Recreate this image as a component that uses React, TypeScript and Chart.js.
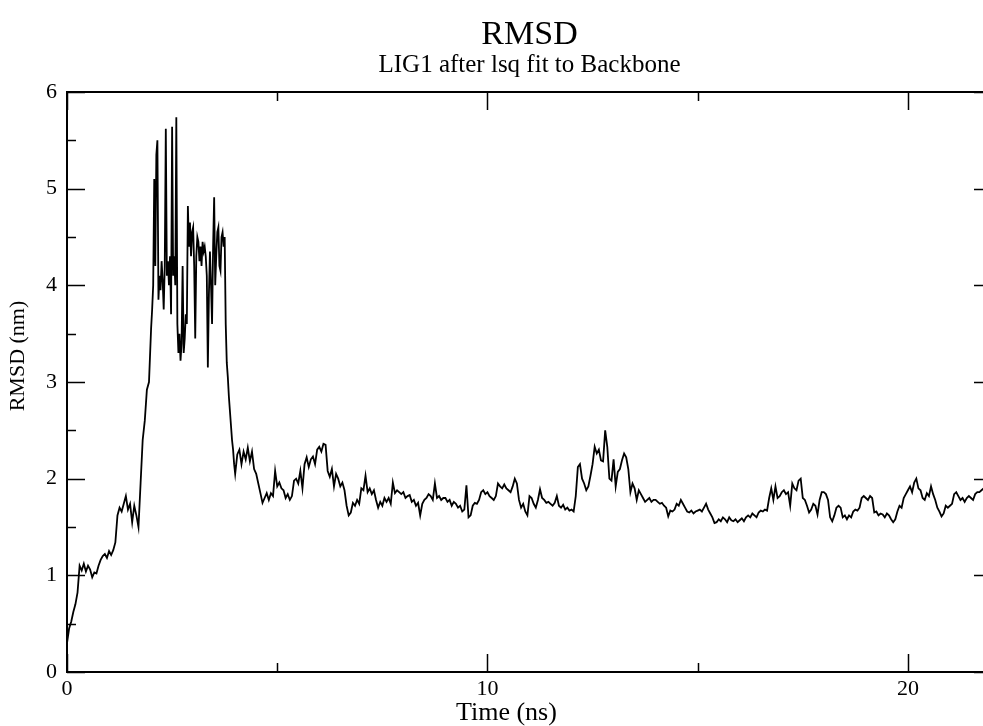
import React, { useEffect, useRef } from "react";
import { Chart, registerables } from "chart.js";

Chart.register(...registerables);

// ---- data (RMSD of LIG1 in nm) ----
// 0.00 - 1.95 ns, every 0.05 ns
const equilibrationStartNs = 0;
const equilibrationStepNs = 0.05;
const rmsdEquilibration = [
  0.30, 0.45, 0.52, 0.62, 0.70, 0.82, 1.10, 1.05, 1.12, 1.04, 1.10, 1.06, 0.98, 1.03, 1.02, 1.10, 1.16, 1.20, 1.22, 1.18,
  1.25, 1.21, 1.26, 1.34, 1.62, 1.70, 1.66, 1.74, 1.82, 1.68, 1.74, 1.55, 1.72, 1.62, 1.50, 1.95, 2.40, 2.60, 2.92, 3.00,
];
// 2.000 - 3.975 ns, every 0.025 ns
const excursionStartNs = 2.0;
const excursionStepNs = 0.025;
const rmsdExcursion = [
  3.55, 3.75, 4.00, 5.10, 4.20, 5.35, 5.50, 3.85, 4.10, 3.95, 4.25, 4.05, 3.75, 4.20, 5.62, 4.10, 4.25, 4.00, 4.30, 3.70,
  5.64, 4.10, 4.30, 4.00, 5.74, 3.60, 3.30, 3.50, 3.22, 3.40, 4.20, 3.30, 3.45, 3.70, 3.60, 4.82, 4.40, 4.65, 4.30, 4.55,
  4.60, 4.20, 3.45, 4.30, 4.50, 4.45, 4.25, 4.40, 4.20, 4.45, 4.35, 4.40, 4.30, 4.10, 3.15, 3.90, 4.35, 4.00, 3.60, 4.40,
  4.91, 4.00, 4.30, 4.55, 4.60, 4.20, 4.15, 4.50, 4.55, 4.40, 4.50, 3.60, 3.20, 3.05, 2.85, 2.70, 2.55, 2.40, 2.30, 2.15,
];
// 4.00 - 22.00 ns, every 0.05 ns
const productionStartNs = 4.0;
const productionStepNs = 0.05;
const rmsdRelaxation = [
  2.05, 2.25, 2.30, 2.15, 2.28, 2.20, 2.32, 2.18, 2.28, 2.10, 2.05, 1.95, 1.85, 1.75, 1.80, 1.85, 1.78, 1.85, 1.82, 2.08,
  1.92, 1.96, 1.90, 1.88, 1.80, 1.84, 1.78, 1.82, 1.98, 2.00, 1.95, 2.08, 1.90, 2.15, 2.22, 2.12, 2.20, 2.23, 2.15, 2.30,
  2.33, 2.28, 2.36, 2.35, 2.08, 2.02, 2.10, 1.92, 2.05, 2.00, 1.92, 1.96, 1.88, 1.72, 1.62, 1.65, 1.75, 1.72, 1.78, 1.74,
];
const rmsdStable1 = [
  1.90, 1.88, 2.03, 1.86, 1.90, 1.84, 1.88, 1.78, 1.70, 1.76, 1.72, 1.80, 1.76, 1.80, 1.74, 1.96, 1.85, 1.88, 1.86, 1.84,
  1.86, 1.80, 1.82, 1.83, 1.76, 1.78, 1.72, 1.75, 1.62, 1.74, 1.78, 1.80, 1.84, 1.82, 1.78, 1.95, 1.80, 1.82, 1.78, 1.80,
  1.80, 1.76, 1.78, 1.72, 1.76, 1.74, 1.70, 1.72, 1.66, 1.68, 1.93, 1.60, 1.62, 1.72, 1.75, 1.74, 1.78, 1.86, 1.88, 1.84,
  1.86, 1.82, 1.80, 1.78, 1.82, 1.95, 1.92, 1.90, 1.94, 1.90, 1.88, 1.86, 1.92, 2.00, 1.95, 1.78, 1.70, 1.74, 1.66, 1.62,
  1.82, 1.80, 1.74, 1.70, 1.78, 1.89, 1.80, 1.78, 1.75, 1.76, 1.74, 1.72, 1.75, 1.82, 1.72, 1.70, 1.73, 1.68, 1.70, 1.67,
];
const rmsdBump = [
  1.68, 1.66, 1.82, 2.12, 2.15, 2.00, 1.95, 1.88, 1.92, 2.03, 2.15, 2.33, 2.26, 2.30, 2.19, 2.18, 2.50, 2.33, 2.00, 1.98,
  2.20, 1.92, 2.07, 2.10, 2.19, 2.26, 2.22, 2.10, 1.86, 1.95, 1.90, 1.78, 1.88, 1.84, 1.80, 1.76, 1.78, 1.80, 1.76, 1.78,
];
const rmsdStable2 = [
  1.78, 1.76, 1.74, 1.75, 1.72, 1.70, 1.61, 1.67, 1.66, 1.68, 1.74, 1.72, 1.78, 1.74, 1.70, 1.66, 1.65, 1.67, 1.64, 1.66,
  1.67, 1.68, 1.66, 1.70, 1.74, 1.68, 1.64, 1.60, 1.54, 1.55, 1.58, 1.56, 1.60, 1.58, 1.55, 1.60, 1.57, 1.56, 1.58, 1.55,
  1.57, 1.59, 1.56, 1.60, 1.62, 1.60, 1.64, 1.62, 1.60, 1.65, 1.67, 1.66, 1.68, 1.67, 1.80, 1.90, 1.78, 1.92, 1.80, 1.82,
  1.86, 1.88, 1.84, 1.86, 1.72, 1.95, 1.90, 1.88, 1.98, 2.00, 1.80, 1.78, 1.72, 1.65, 1.68, 1.74, 1.72, 1.63, 1.78, 1.86,
  1.86, 1.84, 1.78, 1.60, 1.56, 1.62, 1.70, 1.72, 1.70, 1.60, 1.62, 1.58, 1.62, 1.60, 1.66, 1.68, 1.67, 1.70, 1.80, 1.82,
  1.80, 1.78, 1.82, 1.80, 1.65, 1.66, 1.62, 1.64, 1.63, 1.60, 1.64, 1.62, 1.58, 1.55, 1.58, 1.66, 1.72, 1.70, 1.80, 1.84,
  1.88, 1.92, 1.86, 1.96, 2.00, 1.90, 1.88, 1.80, 1.78, 1.85, 1.82, 1.92, 1.84, 1.78, 1.70, 1.66, 1.61, 1.64, 1.72, 1.70,
  1.72, 1.74, 1.84, 1.86, 1.82, 1.78, 1.80, 1.76, 1.80, 1.82, 1.80, 1.78, 1.84, 1.86, 1.86, 1.88, 1.90, 1.92, 1.90, 1.88,
  1.90,
];

const xMajorTicks = [0, 10, 20];
const xMinorTicks = [5, 15];
const yMajorTicks = [0, 1, 2, 3, 4, 5, 6];
const yMinorTicks = [0.5, 1.5, 2.5, 3.5, 4.5, 5.5];

const titleText = "RMSD";
const subtitleText = "LIG1 after lsq fit to Backbone";
const xTitleText = "Time (ns)";
const yTitleText = "RMSD (nm)";

const FONT = "'Liberation Serif', 'Times New Roman', serif";

const framePlugin = {
  id: "xmgraceFrame",
  afterDraw(chart: any) {
    const { ctx, chartArea: a, scales } = chart;
    const xs = scales.x;
    const ys = scales.y;
    const MAJOR = 18;
    const MINOR = 9;
    ctx.save();
    ctx.strokeStyle = "#000";
    ctx.lineWidth = 2;
    ctx.strokeRect(a.left, a.top, a.right - a.left, a.bottom - a.top);
    ctx.lineWidth = 1.5;
    ctx.beginPath();
    const xt = (vals: number[], len: number) => {
      for (const v of vals) {
        const px = Math.round(xs.getPixelForValue(v)) + 0.5;
        ctx.moveTo(px, a.bottom);
        ctx.lineTo(px, a.bottom - len);
        ctx.moveTo(px, a.top);
        ctx.lineTo(px, a.top + len);
      }
    };
    const yt = (vals: number[], len: number) => {
      for (const v of vals) {
        const py = Math.round(ys.getPixelForValue(v)) + 0.5;
        ctx.moveTo(a.left, py);
        ctx.lineTo(a.left + len, py);
        ctx.moveTo(a.right, py);
        ctx.lineTo(a.right - len, py);
      }
    };
    xt(xMajorTicks, MAJOR);
    xt(xMinorTicks, MINOR);
    yt(yMajorTicks, MAJOR);
    yt(yMinorTicks, MINOR);
    ctx.stroke();

    // axis titles (placed as in the xmgrace output)
    ctx.fillStyle = "#000";
    ctx.font = `26px ${FONT}`;
    ctx.textAlign = "center";
    ctx.textBaseline = "alphabetic";
    ctx.fillText(xTitleText, xs.getPixelForValue(10) + 19, a.bottom + 48);

    ctx.translate(18, (a.top + a.bottom) / 2 - 26);
    ctx.rotate(-Math.PI / 2);
    ctx.font = `22px ${FONT}`;
    ctx.textBaseline = "middle";
    ctx.fillText(yTitleText, 0, 0);
    ctx.restore();
  },
};

export default function App() {
  const canvasRef = useRef<HTMLCanvasElement | null>(null);

  useEffect(() => {
    if (!canvasRef.current) return;
    const toPoints = (start: number, step: number, vals: number[]) =>
      vals.map((v, i) => ({ x: +(start + i * step).toFixed(3), y: v }));
    const production = [...rmsdRelaxation, ...rmsdStable1, ...rmsdBump, ...rmsdStable2];
    const points = [
      ...toPoints(equilibrationStartNs, equilibrationStepNs, rmsdEquilibration),
      ...toPoints(excursionStartNs, excursionStepNs, rmsdExcursion),
      ...toPoints(productionStartNs, productionStepNs, production),
    ];

    const chart = new Chart(canvasRef.current, {
      type: "line",
      data: {
        datasets: [
          {
            data: points,
            borderColor: "#000",
            borderWidth: 1.8,
            pointRadius: 0,
            tension: 0,
            fill: false,
          },
        ],
      },
      plugins: [framePlugin],
      options: {
        animation: false,
        responsive: true,
        maintainAspectRatio: false,
        layout: { padding: { left: 0, right: 18, top: 0, bottom: 0 } },
        plugins: {
          legend: { display: false },
          tooltip: { enabled: false },
          title: {
            display: true,
            text: titleText,
            fullSize: false,
            color: "#000",
            font: { family: FONT, size: 34, weight: "normal", lineHeight: 1 },
            padding: { top: 18, bottom: 0 },
          },
          subtitle: {
            display: true,
            text: subtitleText,
            fullSize: false,
            color: "#000",
            font: { family: FONT, size: 25, weight: "normal", lineHeight: 1 },
            padding: { top: 1, bottom: 14 },
          },
        },
        scales: {
          x: {
            type: "linear",
            min: 0,
            max: 22,
            grid: { display: false, drawTicks: false },
            border: { display: false },
            ticks: {
              stepSize: 10,
              includeBounds: false,
              autoSkip: false,
              maxRotation: 0,
              color: "#000",
              padding: 4,
              font: { family: FONT, size: 22 },
              callback: (v: any) => (xMajorTicks.includes(Number(v)) ? String(v) : ""),
            },
            title: { display: false },
            afterFit: (s: any) => {
              s.height = 54;
            },
          },
          y: {
            min: 0,
            max: 6,
            grid: { display: false, drawTicks: false },
            border: { display: false },
            ticks: {
              stepSize: 1,
              color: "#000",
              padding: 10,
              font: { family: FONT, size: 22 },
            },
            title: { display: false },
            afterFit: (s: any) => {
              s.width = 67;
            },
          },
        },
      },
    } as any);

    return () => chart.destroy();
  }, []);

  return (
    <div
      style={{
        position: "fixed",
        left: 0,
        top: 0,
        width: 983,
        height: 726,
        overflow: "hidden",
        background: "#fff",
      }}
    >
      <div style={{ position: "relative", width: 1010, height: 726 }}>
        <canvas ref={canvasRef} />
      </div>
    </div>
  );
}
